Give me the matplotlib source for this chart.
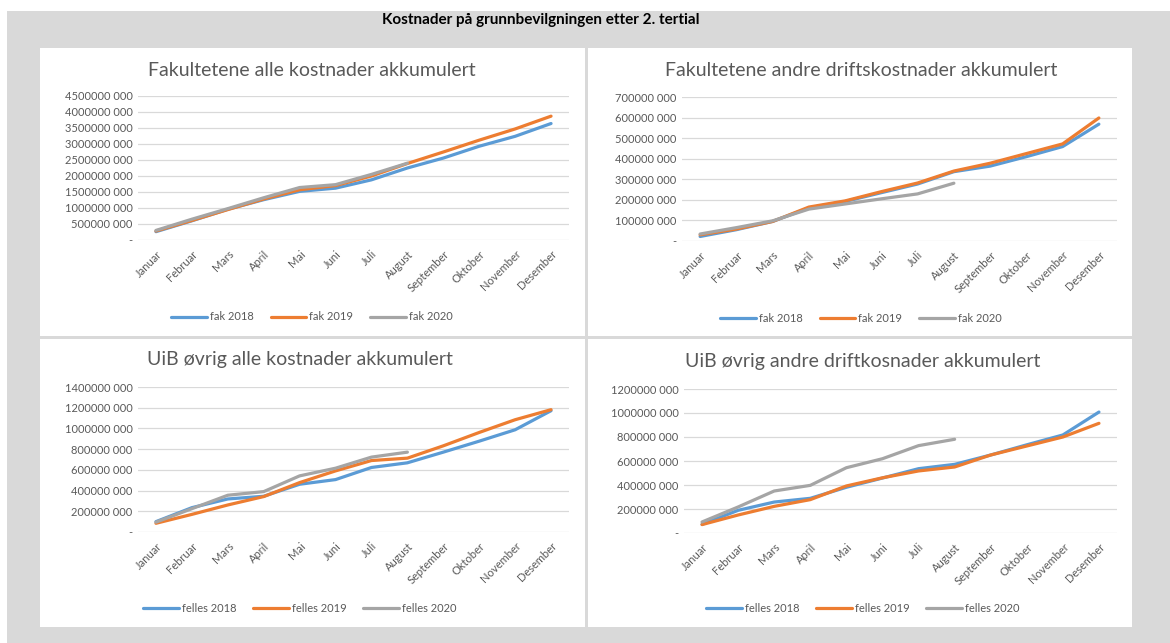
import matplotlib
matplotlib.use("Agg")
import matplotlib.pyplot as plt
from matplotlib.patches import Rectangle
from matplotlib.ticker import FuncFormatter, MultipleLocator

plt.rcParams['font.family'] = ['Lato', 'DejaVu Sans']

W, H = 1170, 643

months = ["Januar", "Februar", "Mars", "April", "Mai", "Juni", "Juli", "August",
          "September", "Oktober", "November", "Desember"]

# Fakultetene alle kostnader (mill. kr)
fak_alle_2018 = [260, 600, 960, 1260, 1520, 1620, 1880, 2250, 2560, 2930, 3240, 3640]
fak_alle_2019 = [280, 610, 950, 1280, 1570, 1700, 2000, 2390, 2750, 3120, 3470, 3870]
fak_alle_2020 = [300, 650, 980, 1320, 1640, 1730, 2050, 2400]

# Fakultetene andre driftskostnader (mill. kr)
fak_drift_2018 = [22, 55, 95, 161, 192, 235, 277, 337, 364, 410, 459, 568]
fak_drift_2019 = [30, 58, 95, 165, 195, 240, 282, 340, 378, 425, 472, 598]
fak_drift_2020 = [34, 65, 98, 155, 180, 205, 229, 281]

# UiB øvrig alle kostnader (mill. kr)
felles_alle_2018 = [100, 235, 319, 345, 461, 506, 623, 668, 771, 877, 987, 1171]
felles_alle_2019 = [84, 170, 261, 342, 477, 590, 690, 713, 832, 961, 1084, 1181]
felles_alle_2020 = [95, 225, 355, 390, 542, 616, 723, 771]

# UiB øvrig andre driftkostnader (mill. kr)
felles_drift_2018 = [72, 189, 258, 289, 381, 458, 536, 572, 650, 735, 817, 1008]
felles_drift_2019 = [70, 150, 222, 278, 392, 460, 517, 550, 650, 725, 800, 914]
felles_drift_2020 = [92, 217, 350, 397, 544, 619, 728, 781]

colors = ["#5B9BD5", "#ED7D31", "#A5A5A5"]
text_col = "#595959"


def fmt(v, pos):
    if v == 0:
        return "-"
    return f"{int(round(v * 1e6)) // 1000} 000"


def rect(x0, y0, x1, y1, color):
    # pixel coords, y from top
    fig.patches.append(Rectangle((x0 / W, 1 - y1 / H), (x1 - x0) / W, (y1 - y0) / H,
                                 transform=fig.transFigure, facecolor=color,
                                 edgecolor="none", zorder=-10))


def panel(box, pcx, title, series, labels, ymax, step, title_y, legend_y):
    x0, y0, x1, y1 = box
    ax = fig.add_axes([x0 / W, 1 - y1 / H, (x1 - x0) / W, (y1 - y0) / H])
    for vals, c, lab in zip(series, colors, labels):
        ax.plot(range(len(vals)), vals, color=c, lw=2.3, label=lab,
                solid_capstyle="round")
    ax.set_xlim(-0.5, 11.5)
    ax.set_ylim(0, ymax)
    ax.yaxis.set_major_locator(MultipleLocator(step))
    ax.yaxis.set_major_formatter(FuncFormatter(fmt))
    ax.set_xticks(range(12))
    ax.set_xticklabels(months, rotation=45, ha="right", rotation_mode="anchor")
    ax.tick_params(length=0, labelsize=8, colors=text_col, pad=4)
    ax.tick_params(axis="x", pad=6)
    for s in ax.spines.values():
        s.set_visible(False)
    ax.grid(axis="y", color="#d9d9d9", lw=0.9)
    ax.set_axisbelow(True)
    cx = pcx / W
    fig.text(cx, 1 - title_y / H, title, ha="center", va="center",
             fontsize=14, color=text_col)
    ax.legend(loc="center", bbox_to_anchor=(cx, 1 - legend_y / H),
              bbox_transform=fig.transFigure, ncol=3, frameon=False,
              fontsize=8, labelcolor=text_col, handlelength=3.2,
              columnspacing=1.5, handletextpad=0.3)
    return ax


fig = plt.figure(figsize=(W / 100, H / 100), dpi=100)
fig.patch.set_facecolor("white")
rect(7, 11, 1170, 643, "#d9d9d9")
rect(40, 48, 585, 336, "white")
rect(588, 48, 1132, 336, "white")
rect(40, 339, 585, 627, "white")
rect(588, 339, 1132, 627, "white")

fig.text(541 / W, 1 - 20 / H, "Kostnader på grunnbevilgningen etter 2. tertial",
         ha="center", va="center", fontsize=11, fontweight="bold", color="black")

panel((138, 96, 569, 240), 312, "Fakultetene alle kostnader akkumulert",
      [fak_alle_2018, fak_alle_2019, fak_alle_2020],
      ["fak 2018", "fak 2019", "fak 2020"], 4500, 500, 70, 317)
panel((682, 97, 1117, 241), 861, "Fakultetene andre driftskostnader akkumulert",
      [fak_drift_2018, fak_drift_2019, fak_drift_2020],
      ["fak 2018", "fak 2019", "fak 2020"], 700, 100, 70, 318)
panel((138, 387, 569, 532), 300, "UiB øvrig alle kostnader akkumulert",
      [felles_alle_2018, felles_alle_2019, felles_alle_2020],
      ["felles 2018", "felles 2019", "felles 2020"], 1400, 200, 360, 608)
panel((684, 389, 1117, 533), 863, "UiB øvrig andre driftkosnader akkumulert",
      [felles_drift_2018, felles_drift_2019, felles_drift_2020],
      ["felles 2018", "felles 2019", "felles 2020"], 1200, 200, 362, 608)

fig.savefig("out.png", dpi=100)
